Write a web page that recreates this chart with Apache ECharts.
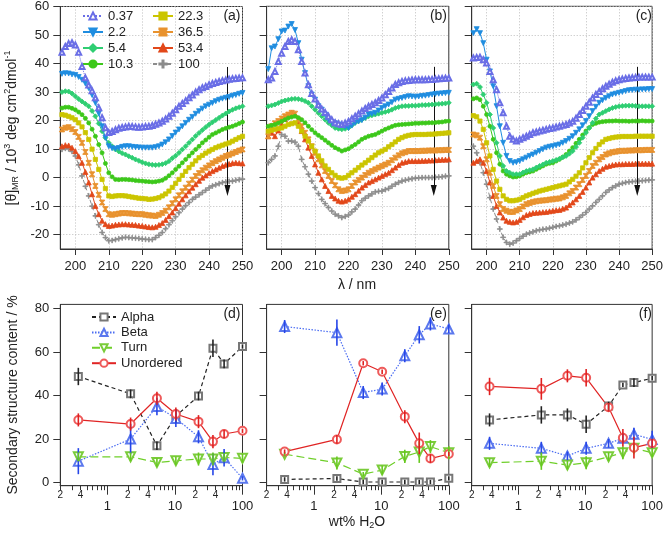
<!DOCTYPE html>
<html><head><meta charset="utf-8">
<script src="https://cdn.jsdelivr.net/npm/echarts@6/dist/echarts.min.js"></script>
<style>html,body{margin:0;padding:0;background:#fff}#c{width:666px;height:533px}</style>
</head><body><div id="c"></div>
<script>
const FONT = '"Liberation Sans", Arial, Helvetica, sans-serif';

// ---------- top panels: CD spectra ----------
const wavelength = [196,197,198,199,200,201,202,203,204,205,206,207,208,209,210,211,212,213,214,215,216,217,218,219,220,221,222,223,224,225,226,227,228,229,230,231,232,233,234,235,236,237,238,239,240,241,242,243,244,245,246,247,248,249,250];
const hydration = ['0.37','2.2','5.4','10.3','22.3','36.5','53.4','100'];
const xTicksTop = [200,210,220,230,240,250];
const yTicksTop = [-20,-10,0,10,20,30,40,50,60];

// panel (a)
const a037 = [44,46,47,47.3,46.5, 44,39,35,32.5,30.5, 28,24.5,21,17.5,15.8, 16.2,16.8,17.3,17.6,17.8, 18,17.9,17.8,17.7,17.8, 17.9,18,18.3,18.7,19.2, 19.8,20.6,21.5,22.6,23.8, 25,26,27,28,29, 30,30.8,31.5,32,32.6, 33,33.4,33.7,34,34.2, 34.5,34.7,34.8,34.9,35];
const a22 = [36.4,36.6,36.5,36.2,36, 35.3,34.3,33,31.4,29, 26.2,22.5,18,14,11, 10.3,10.1,10.4,10.8,11, 11,10.8,10.7,10.6,10.5, 10.5,10.5,10.5,10.7,11, 11.6,12.4,13.4,14.6,15.8, 16.9,18,19.2,20.3,21.3, 22.4,23.3,24.2,25,25.6, 26.2,26.8,27.3,27.7,28, 28.3,28.7,29,29.4,29.7];
const a54 = [30,30.3,30.2,29.5,28.5, 27.6,26.7,25.9,25,23.4, 21.5,19,16.3,14,12.2, 11,9.9,9.2,8.6,8.1, 7.5,7,6.4,5.9,5.4, 5,4.7,4.5,4.4,4.5, 4.7,5.1,5.8,6.8,7.7, 8.7,9.9,11,12.2,13.4, 14.6,15.7,16.7,17.7,18.6, 19.4,20.2,21,21.8,22.5, 23.2,23.8,24.3,24.7,25];
const a103 = [24.4,24.7,24.7,24.3,23.8, 23,22.1,20.8,19.2,17, 14.5,11.6,8.7,5,1.7, 0.3,-0.6,-0.7,-0.6,-0.6, -0.7,-0.8,-1,-1.1,-1.2, -1.3,-1.4,-1.5,-1.4,-1.2, -0.9,-0.2,0.7,1.7,2.9, 4,5.2,6.4,7.6,8.7, 9.9,11,12.2,13.2,14.2, 15.1,15.7,16.3,16.9,17.3, 17.7,18,18.5,19,19.5];
const a223 = [22.1,21.9,21.5,21,20.3, 19.2,17.8,15.8,13.4,10, 6.4,2.9,-0.6,-3.8,-6.4, -6.6,-6.4,-6.3,-6.3,-6.4, -6.6,-6.8,-7,-7.2,-7.3, -7.4,-7.6,-7.5,-7.3,-7, -6.4,-5.7,-4.7,-3.4,-2, -0.6,0.8,2.2,3.5,4.7, 5.9,7,7.8,8.6,9.3, 9.9,10.5,11,11.4,11.8, 12.2,12.8,13.4,14,14.5];
const a365 = [16.9,17.5,17.7,17,16, 14.3,12.2,9,5.2,1.2, -2.9,-6,-8.7,-11,-12.8, -13,-12.8,-12.6,-12.4,-12.4, -12.5,-12.6,-12.7,-12.8,-12.8, -13,-13.2,-13.3,-13.4,-13, -12.4,-11.6,-10.4,-9,-7.6, -6.2,-4.8,-3.5,-2.1,-0.7, 0.6,1.6,2.6,3.5,4.3, 5.1,5.8,6.4,7,7.6, 8,8.5,9,9.5,9.9];
const a534 = [11,11.4,11.3,10.5,9.3, 7.5,5.2,2,-1.7,-5.8, -9.9,-12.8,-15.1,-16.3,-16.9, -16.8,-16.5,-16.4,-16.3,-16.3, -16.4,-16.5,-16.6,-16.8,-16.9, -17.1,-17.3,-17.4,-17.2,-16.6, -15.9,-14.8,-13.5,-12.2,-10.7, -9.1,-7.6,-6.2,-4.8,-3.5, -2.3,-1.1,0,0.8,1.6, 2.3,2.9,3.5,4.1,4.5, 4.8,5.1,5.2,5.1,5];
const a100 = [9.9,10.3,10.1,9.2,7.6, 4.5,0.6,-3,-6.4,-10, -13.4,-16.5,-19.2,-21,-22.1, -22,-21.7,-21.4,-21.1,-20.9, -21,-21.1,-21.2,-21.3,-21.5, -21.6,-21.7,-21.7,-21,-20.2, -19.2,-17.9,-16.5,-15.1,-13.7, -12.3,-11,-9.8,-8.7,-7.6, -6.8,-6,-5.2,-4.4,-3.6, -2.9,-2.5,-2.1,-1.7,-1.5, -1.3,-1.2,-0.9,-0.7,-0.5];

// panel (b)
const b037 = [34.3,34.9,37.2,40.7,43.6, 45.9,47.7,48.3,47.7,44.8, 40.7,36.6,32.5,29.5,27.5, 25.5,24,22.8,21.5,20.3, 19.2,18.9,18.6,19.1,19.7, 20.6,21.5,22.4,23.3,24.2, 25,25.6,26.2,27,27.9, 29,30.2,31.4,32.6,33.2, 33.7,33.9,34,34.2,34.3, 34.3,34.3,34.3,34.4,34.4, 34.5,34.6,34.7,34.8,34.9];
const b22 = [38,45.3,45.9,48.5,51.2, 51.5,52.9,53.8,51.7,47.1, 41.3,36.6,32,29.1,27.3, 25,23.8,22.1,20.3,19.4, 19,18.6,18.3,17.8,17.4, 18.2,19.2,19.7,20.1,21, 22.1,22.4,22.7,23.5,24.4, 25,25.6,26.4,27.3,27.6, 27.9,28.2,28.5,28.4,28.3, 28.4,28.6,28.7,28.9,29.1, 29.3,29.4,29.5,29.6,29.7];
const b54 = [25,25.3,25.6,26.1,26.7, 27,27.3,27.5,27.6,27.5, 27.3,26.8,26.2,25,23.8, 22.6,21.5,20.3,19.2,18.3, 17.4,17.1,16.9,17.1,17.4, 18.3,19.2,19.7,20.3,20.9, 21.5,21.8,22.1,22.4,22.7, 23,23.3,23.8,24.4,24.7, 25,25.1,25.1,25.2,25.2, 25.3,25.4,25.4,25.5,25.6, 25.7,25.8,25.9,26,26.2];
const b103 = [18,18.3,18.6,19.1,19.7, 20.3,20.9,21.2,21.5,21, 20.3,19.2,18,16.8,15.7, 14.8,14,13.1,12.2,11.3, 10.5,9.9,9.3,9.7,10.1, 10.9,11.6,12.5,13.4,14, 14.5,14.8,15.1,15.7,16.3, 16.9,17.4,17.9,18.3,18.5, 18.6,18.7,18.8,18.9,19, 19,19.1,19.1,19.2,19.2, 19.3,19.4,19.5,19.7,19.8];
const b223 = [16.3,16.6,16.9,17.2,17.4, 18,18.6,18.9,19.2,18, 16.3,14.5,12.8,11,9.3, 7.6,5.9,4.1,2.9,1.7, 0.8,0,-0.2,0,0.8, 1.7,2.6,3.5,4.4,5.2, 6.1,7,7.9,8.7,9.3, 9.9,10.8,11.6,12.5,13.4, 14,14.5,14.8,15,15.1, 15.1,15.1,15.1,15.2,15.2, 15.3,15.4,15.5,15.6,15.7];
const b365 = [14.5,18,19,19.8,20.7, 21.5,22.1,22.7,22.4,20.3, 18,15.7,13.4,11,8.7, 6.4,4.3,2.3,0.6,-1.2, -2.7,-4.1,-4.7,-4.5,-4.1, -2.9,-1.7,-0.8,0,0.9, 1.7,2.3,2.9,3.5,4.1, 4.6,5.2,6.1,7,7.8, 8.5,8.9,9.3,9.3,9.3, 9.3,9.4,9.4,9.5,9.5, 9.5,9.6,9.6,9.7,9.7];
const b534 = [14.5,15.7,14.5,16.5,18.6, 20.5,22.1,22.7,22.1,19.2, 16.3,13.4,10.5,7.6,4.6, 1.7,-0.6,-2.9,-4.7,-6.4, -7.3,-8.1,-8.4,-8.1,-7.6, -6.7,-5.8,-4.6,-3.5,-2.6, -1.7,-1.2,-0.6,0,0.6, 1.2,1.7,2.6,3.5,4.4, 5.2,5.5,5.8,5.8,5.8, 5.8,5.9,5.9,6,6, 6.1,6.2,6.3,6.3,6.4];
const b100 = [5.2,6.4,7.6,11,15.1, 14.5,12.8,12.8,12.4,11, 6.4,3.8,1.2,-1.2,-3.5, -5.6,-7.6,-9.1,-10.5,-11.7, -12.8,-13.4,-14,-13.6,-13.1, -12,-11,-9.6,-8.1,-7.2, -6.4,-5.7,-5,-4.8,-4.7, -4.2,-3.8,-3,-2.3,-1.7, -1.2,-0.9,-0.6,-0.4,-0.2, -0.1,0,0,0,0, 0.1,0.2,0.3,0.5,0.6];

// panel (c)
const c037 = [41.9,42.1,42.2,41.3,40.1, 37.2,34.3,30.8,26.2,22.7, 18,14.5,13.4,12.8,13.4, 14,14.5,15.1,15.7,16, 16.3,16.6,16.9,17.2,17.4, 17.7,18,18.3,18.6,19.1, 19.7,20.8,22.1,23.5,25, 26.4,27.9,29.1,30.2,31.1, 32,32.7,33.4,33.9,34.3, 34.5,34.7,34.9,35,35.1, 35.2,35.2,35.2,35.2,35.2];
const c22 = [50.6,52,50.6,47.1,41.3, 37.2,32,25,18,12.2, 7.6,5.8,5.2,5.4,5.8, 6.4,7,7.6,8.1,8.7, 9.3,9.9,10.5,10.8,11, 11.3,11.6,12.2,12.8,13.6, 14.5,15.7,16.9,18.3,19.8, 21.5,23.3,24.8,26.2,27.1, 27.9,28.5,29.1,29.4,29.7, 30,30.3,30.6,30.7,30.8, 30.8,30.9,30.9,31,31];
const c54 = [32.6,32.9,31.7,29.1,26.2, 22.1,17.4,12.2,7.6,4.1, 2.3,1.7,1.2,1.2,1.2, 1.8,2.3,2.6,2.9,3.5, 4.1,4.6,5.2,5.5,5.8, 6.2,6.6,7.1,7.6,8.4, 9.3,10.7,12.2,14,15.7, 17.4,19.2,20.7,22.1,22.7, 23.3,23.9,24.4,24.7,25, 25.1,25.2,25.2,25.2,25.1, 25,25,25,25,25];
const c103 = [27.6,27.9,27.3,25,22.1, 18,13.4,8.7,4.7,2.3, 1.2,0.6,0.2,0.3,0.6, 1.2,1.7,2,2.3,2.9, 3.5,4.1,4.7,5,5.2, 5.8,6.4,7.2,8.1,9.3, 10.5,12,13.4,14.9,16.3, 17.5,18.6,19,19.4,19.6, 19.7,19.8,19.8,19.9,19.8, 19.8,19.8,19.7,19.8,19.8, 19.8,19.9,19.8,19.8,19.8];
const c223 = [21.7,21.3,19.8,16.9,12.2, 7.6,2.9,-1.2,-4.1,-6.4, -7.6,-8.1,-8.1,-7.9,-7.6, -7,-6.4,-6,-5.5,-5.1, -4.7,-4.4,-4.1,-3.8,-3.5, -3.2,-2.9,-2.6,-2.3,-1.5, -0.6,0.5,1.7,3.4,5.2, 7,8.7,10.2,11.6,12.5, 13.4,13.7,14,14.2,14.3, 14.4,14.4,14.4,14.4,14.5, 14.5,14.5,14.5,14.5,14.5];
const c365 = [15.1,14.8,14,11,6.4, 1.7,-2.9,-6.4,-9.3,-11, -11.6,-12,-12,-11.5,-11, -10.1,-9.3,-8.9,-8.5,-8.3, -8.1,-8,-7.9,-7.7,-7.6, -7.4,-7.3,-6.9,-6.4,-5.5, -4.7,-3.5,-2.3,-0.8,0.6, 2.3,4.1,5.2,6.4,7.2, 8.1,8.5,8.9,9.1,9.3, 9.4,9.4,9.5,9.5,9.6, 9.6,9.6,9.7,9.7,9.7];
const c534 = [5.2,5.8,6.4,5.2,2.3, -1.7,-6.4,-9.9,-12.2,-14, -15.1,-15.5,-15.7,-15.5,-14.8, -13.9,-13.1,-12.7,-12.4,-12.3, -12.2,-12.1,-12,-11.8,-11.6, -11.4,-11.3,-10.9,-10.5,-9.6, -8.7,-7.6,-6.4,-5,-3.5, -1.7,0,1.2,2.3,3.1, 3.8,4.1,4.4,4.6,4.7, 4.7,4.8,4.8,4.8,4.9, 4.9,4.9,4.9,4.9,4.9];
const c100 = [11,8.7,5.2,1.7,-2.3, -7,-11,-14.5,-18,-20.9, -22.7,-23.3,-22.9,-22.1,-21.3, -20.5,-19.8,-19.4,-19,-18.6, -18.3,-18.1,-18,-17.7,-17.4, -17.1,-16.9,-16.6,-16.3,-15.9, -15.5,-14.8,-14,-13.1,-12.2, -11,-9.9,-8.7,-7.6,-6.4, -5.2,-4.3,-3.5,-2.9,-2.3, -2,-1.7,-1.5,-1.4,-1.3, -1.2,-1.1,-1,-0.9,-0.8];

// ---------- bottom panels: secondary structure ----------
const water = [0.37, 2.2, 5.4, 10.3, 22.3, 36.5, 53.4, 100];
const structures = ['Alpha','Beta','Turn','Unordered'];
const xMinorTicks = [0.2,0.3,0.4,0.5,0.6,0.7,0.8,0.9,2,3,4,5,6,7,8,9,20,30,40,50,60,70,80,90];
const xMinorLabels = [0.2,0.4,2,4,20,40];
const xMajorTicks = [1,10,100];
const yTicksBottom = [0,20,40,60,80];

const d_alpha = [48.8,40.8,16.9,30.6,39.8,61.8,54.6,62.6];
const d_alpha_err = [4,2,2,3,2,4,2,1];
const d_beta = [9.8,20,35,29.5,21,8.3,11.4,1.9];
const d_beta_err = [6,7,4,4,3,5,4,1];
const d_turn = [11.8,11.8,9.2,10,10.8,10.8,11.5,11.1];
const d_turn_err = [2,2,2,2,3,3,2,2];
const d_unord = [28.8,26.9,38.8,31.5,28,18.8,22.3,23.8];
const d_unord_err = [3,3,3,3,3,3,2,1];

const e_alpha = [1.4,1.8,0.2,0.2,0.2,0.2,0.2,1.9];
const e_alpha_err = [1,1,1,1,1,1,1,1];
const e_beta = [71.8,69,41.4,43,58.3,68,73,70.7];
const e_beta_err = [3,6,3,3,3,4,3,2];
const e_turn = [13,9,3.8,5.7,12,14,16.5,13.7];
const e_turn_err = [1,3,1,2,3,5,3,3];
const e_unord = [14.2,19.8,54.9,51,30.3,18,11,13.1];
const e_unord_err = [1,2,1,1,3,5,2,1];

const f_alpha = [28.8,31.1,31.1,26.8,35.2,44.9,46,48];
const f_alpha_err = [3,4,3,4,2,1,2,1];
const f_beta = [18,15.7,12.2,15.7,18,20.3,22.2,19.8];
const f_beta_err = [3,3,2,3,2,2,3,4];
const f_turn = [9.1,9.8,8,9.1,11.8,13.7,15.7,13.7];
const f_turn_err = [2,4,2,3,2,3,2,2];
const f_unord = [44.2,43.1,49.1,48.2,34.6,20.6,16,18];
const f_unord_err = [4,5,3,4,2,4,5,2];

// arrow annotation (data coordinates)
const arrowX = 245.5, arrowFrom = 38.8, arrowTo = -4.5;

// ---------- styles ----------
const HOURGLASS = 'path://M0,0L10,0L10,1.6L6.2,5L10,8.4L10,10L0,10L0,8.4L3.8,5L0,1.6Z';
const PLUS = 'path://M4.3,0H5.7V4.3H10V5.7H5.7V10H4.3V5.7H0V4.3H4.3Z';
const topStyles = [
  {color:'#6a6ee6', symbol:'emptyTriangle', size:5, rotate:0, line:'dotted'},
  {color:'#1f8de0', symbol:'triangle', size:5, rotate:180, line:'solid'},
  {color:'#2fce72', symbol:'diamond', size:5, rotate:0, line:'solid'},
  {color:'#3cc81a', symbol:'circle', size:4, rotate:0, line:'solid'},
  {color:'#cbc500', symbol:'rect', size:4.2, rotate:0, line:'solid'},
  {color:'#e8922e', symbol:HOURGLASS, size:5, rotate:0, line:'solid'},
  {color:'#e2481a', symbol:'triangle', size:5, rotate:0, line:'solid'},
  {color:'#8c8c8c', symbol:PLUS, size:5, rotate:0, line:[4,3]}
];
const botStyles = [
  {line:'#222', marker:'#777', err:'#222', symbol:'emptyRect', size:7, rotate:0, type:[4,3]},
  {line:'#4a6cf2', marker:'#5b78ee', err:'#2646e8', symbol:'emptyTriangle', size:9, rotate:0, type:[1.5,1.5]},
  {line:'#6fcf2a', marker:'#7acc3a', err:'#66c91e', symbol:'emptyTriangle', size:9, rotate:180, type:[8,4]},
  {line:'#e02424', marker:'#ee5a5a', err:'#e02020', symbol:'emptyCircle', size:8, rotate:0, type:'solid'}
];

const topPanels = [
  [a037,a22,a54,a103,a223,a365,a534,a100],
  [b037,b22,b54,b103,b223,b365,b534,b100],
  [c037,c22,c54,c103,c223,c365,c534,c100]
];
const botPanels = [
  [[d_alpha,d_alpha_err],[d_beta,d_beta_err],[d_turn,d_turn_err],[d_unord,d_unord_err]],
  [[e_alpha,e_alpha_err],[e_beta,e_beta_err],[e_turn,e_turn_err],[e_unord,e_unord_err]],
  [[f_alpha,f_alpha_err],[f_beta,f_beta_err],[f_turn,f_turn_err],[f_unord,f_unord_err]]
];

// ---------- layout ----------
const lefts = [60.3, 266.6, 471.7];
const plotW = 182.2;
const topTop = 6.3, topH = 242.7;
const botTop = 304.4, botH = 181.3;
const L10 = Math.log10;
const LOG_MIN = L10(0.2), LOG_MAX = 2;

const grid = [], xAxis = [], yAxis = [], series = [];
const axisLineStyle = {show:true, onZero:false, lineStyle:{color:'#333', width:1}};
const labelStyle = {color:'#222', fontSize:13, fontFamily:FONT};

for (let p = 0; p < 3; p++) {
  grid.push({left:lefts[p], top:topTop, width:plotW, height:topH, show:true, borderColor:'#333', borderWidth:1, backgroundColor:'transparent'});
}
for (let p = 0; p < 3; p++) {
  grid.push({left:lefts[p], top:botTop, width:plotW, height:botH, show:true, borderColor:'#333', borderWidth:1, backgroundColor:'transparent'});
}

// top axes
for (let p = 0; p < 3; p++) {
  xAxis.push({type:'value', gridIndex:p, position:'bottom', min:195.5, max:250,
    axisLine:axisLineStyle,
    axisTick:{show:true, inside:false, length:6, customValues:xTicksTop, lineStyle:{color:'#333'}},
    axisLabel:Object.assign({show:true, margin:11, customValues:xTicksTop}, labelStyle),
    splitLine:{show:true, lineStyle:{type:[1,2], color:'#bdbdbd', width:1}}
  });
  yAxis.push({type:'value', gridIndex:p, position:'left', min:-25, max:60,
    axisLine:axisLineStyle,
    axisTick:{show:true, inside:false, length:7, customValues:yTicksTop, lineStyle:{color:'#333'}},
    axisLabel:Object.assign({show:p===0, margin:11, customValues:yTicksTop}, labelStyle),
    splitLine:{show:true, lineStyle:{type:[1,2], color:'#bdbdbd', width:1}}
  });
}
// bottom axes: minor + major x axes for each grid
for (let p = 0; p < 3; p++) {
  xAxis.push({type:'value', gridIndex:3+p, position:'bottom', offset:0, min:LOG_MIN, max:LOG_MAX,
    axisLine:axisLineStyle,
    axisTick:{show:true, length:4.5, customValues:xMinorTicks.map(L10), lineStyle:{color:'#333'}},
    axisLabel:{show:true, margin:5, fontSize:10, color:'#222', fontFamily:FONT,
      customValues:xMinorLabels.map(L10),
      formatter:v => { const x = Math.pow(10, v); const e = Math.floor(Math.log10(x) + 1e-9); return String(Math.round(x / Math.pow(10, e))); }},
    splitLine:{show:false}
  });
  xAxis.push({type:'value', gridIndex:3+p, position:'bottom', offset:0, min:LOG_MIN, max:LOG_MAX,
    axisLine:axisLineStyle,
    axisTick:{show:true, length:9, customValues:xMajorTicks.map(L10), lineStyle:{color:'#333'}},
    axisLabel:Object.assign({show:true, margin:14, customValues:xMajorTicks.map(L10),
      formatter:v => String(Math.round(Math.pow(10, v)))}, labelStyle),
    splitLine:{show:false}
  });
  yAxis.push({type:'value', gridIndex:3+p, position:'left', min:-1.5, max:82,
    axisLine:axisLineStyle,
    axisTick:{show:true, length:7, customValues:yTicksBottom, lineStyle:{color:'#333'}},
    axisLabel:Object.assign({show:p===0, margin:11, customValues:yTicksBottom}, labelStyle),
    splitLine:{show:false}
  });
}

// top series
for (let p = 0; p < 3; p++) {
  topPanels[p].forEach((vals, k) => {
    const st = topStyles[k];
    const s = {
      type:'line', name:hydration[k], xAxisIndex:p, yAxisIndex:p,
      data:wavelength.map((w, i) => [w, vals[i]]),
      symbol:st.symbol, symbolSize:st.size, symbolRotate:st.rotate, showSymbol:true,
      lineStyle:{color:st.color, width:1, type:st.line},
      itemStyle:{color:st.color, borderColor:st.color, borderWidth:0.8},
      z:10 - k, animation:false, silent:true
    };
    if (k === 7) {
      s.markLine = {silent:true, symbol:['none','triangle'], symbolSize:[6,11],
        lineStyle:{color:'#111', width:1, type:'solid'}, label:{show:false},
        data:[[{coord:[arrowX, arrowFrom]}, {coord:[arrowX, arrowTo]}]]};
    }
    series.push(s);
  });
}

// bottom series
for (let p = 0; p < 3; p++) {
  botPanels[p].forEach((pair, k) => {
    const st = botStyles[k];
    const vals = pair[0], errs = pair[1];
    series.push({
      type:'line', name:structures[k], xAxisIndex:3 + 2*p, yAxisIndex:3+p,
      data:water.map((w, i) => [L10(w), vals[i]]),
      symbol:st.symbol, symbolSize:st.size, symbolRotate:st.rotate,
      lineStyle:{color:st.line, width:1.2, type:st.type},
      itemStyle:{color:st.marker, borderColor:st.marker, borderWidth:1},
      z:5, animation:false, silent:true
    });
    series.push({
      type:'custom', name:structures[k] + ' error', xAxisIndex:3 + 2*p, yAxisIndex:3+p,
      data:water.map((w, i) => [L10(w), vals[i], errs[i]]),
      encode:{x:0, y:1},
      renderItem:(params, api) => {
        const x = api.value(0), y = api.value(1), e = api.value(2);
        const a = api.coord([x, y - e]), b = api.coord([x, y + e]);
        return {type:'line', shape:{x1:a[0], y1:a[1], x2:b[0], y2:b[1]},
          style:{stroke:st.err, lineWidth:1.6}};
      },
      z:6, animation:false, silent:true
    });
  });
}

const legendBase = {orient:'vertical', itemWidth:20, itemHeight:9, itemGap:3,
  textStyle:{fontSize:13, color:'#222', fontFamily:FONT, lineHeight:13}, selectedMode:false, padding:0};

const panelLabel = (txt, x, y) => ({type:'text', x:x, y:y, silent:true,
  style:{text:txt, fontSize:14, fill:'#222', fontFamily:FONT, align:'right', verticalAlign:'middle'}});

const option = {
  backgroundColor:'#fff',
  animation:false,
  textStyle:{fontFamily:FONT},
  grid, xAxis, yAxis, series,
  legend:[
    Object.assign({}, legendBase, {data:hydration.slice(0,4), left:82, top:9.5}),
    Object.assign({}, legendBase, {data:hydration.slice(4), left:152, top:9.5}),
    Object.assign({}, legendBase, {data:structures, left:91, top:310.5, itemWidth:24, itemGap:2.4})
  ],
  graphic:[
    panelLabel('(a)', 240.5, 16.5),
    panelLabel('(b)', 447, 16.5),
    panelLabel('(c)', 652, 16.5),
    panelLabel('(d)', 240.5, 314),
    panelLabel('(e)', 447, 314),
    panelLabel('(f)', 652, 314),
    {type:'text', x:12, y:128, rotation:Math.PI/2, silent:true,
      style:{text:'{n|[θ]}{sub|MR}{n| / 10}{sup|3}{n| deg cm}{sup|2}{n|dmol}{sup|-1}',
        align:'center', verticalAlign:'middle', fill:'#222',
        rich:{n:{fontSize:14, fontFamily:FONT, fill:'#222'},
              sub:{fontSize:9, fontFamily:FONT, fill:'#222', padding:[7,0,0,0]},
              sup:{fontSize:9, fontFamily:FONT, fill:'#222', padding:[0,0,9,0]}}}},
    {type:'text', x:357, y:285, silent:true,
      style:{text:'λ / nm', fontSize:14, fontFamily:FONT, fill:'#222', align:'center', verticalAlign:'middle'}},
    {type:'text', x:13, y:395, rotation:Math.PI/2, silent:true,
      style:{text:'Secondary structure content / %', fontSize:14, fontFamily:FONT, fill:'#222', align:'center', verticalAlign:'middle'}},
    {type:'text', x:357, y:522, silent:true,
      style:{text:'{n|wt% H}{sub|2}{n|O}', align:'center', verticalAlign:'middle', fill:'#222',
        rich:{n:{fontSize:14, fontFamily:FONT, fill:'#222'},
              sub:{fontSize:9, fontFamily:FONT, fill:'#222', padding:[7,0,0,0]}}}}
  ]
};

const chart = echarts.init(document.getElementById('c'), null, {renderer:'canvas'});
chart.setOption(option);
</script>
</body></html>
